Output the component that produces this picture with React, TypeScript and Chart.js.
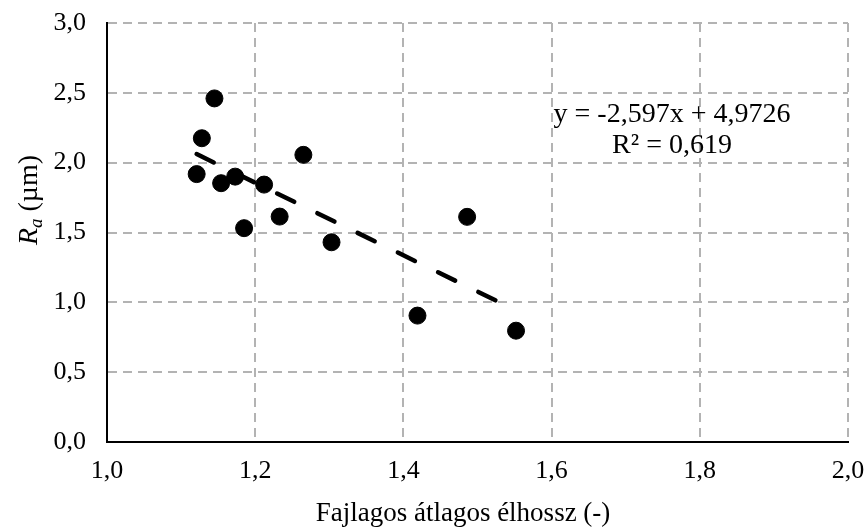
import React, { useEffect, useRef } from "react";
import { Chart, registerables } from "chart.js";

Chart.register(...registerables);

// Measured specimens: specific mean edge length vs. surface roughness Ra
const edgeLength = [1.145, 1.128, 1.121, 1.154, 1.173, 1.212, 1.265, 1.233, 1.185, 1.303, 1.419, 1.486, 1.552];
const roughness = [2.46, 2.175, 1.918, 1.853, 1.9, 1.843, 2.056, 1.614, 1.531, 1.43, 0.905, 1.612, 0.797];

// Linear trendline parameters
const SLOPE = -2.597;
const INTERCEPT = 4.9726;
const R_SQUARED = 0.619;

const xTicks = [1.0, 1.2, 1.4, 1.6, 1.8, 2.0];
const yTicks = [0.0, 0.5, 1.0, 1.5, 2.0, 2.5, 3.0];

const xTitle = "Fajlagos átlagos élhossz (-)";

const SERIF = "'Liberation Serif', 'Times New Roman', serif";
const GRID_COLOR = "#b3b3b3";

const fmt = (v: number, d: number) => v.toFixed(d).replace(".", ",");

const annotations = {
  id: "annotations",
  afterDraw(chart: any) {
    const ctx: CanvasRenderingContext2D = chart.ctx;
    ctx.save();
    ctx.fillStyle = "#000";

    // Trendline equation
    ctx.font = `28px ${SERIF}`;
    ctx.textAlign = "center";
    ctx.textBaseline = "alphabetic";
    const eq = `y = ${fmt(SLOPE, 3)}x + ${fmt(INTERCEPT, 4)}`;
    ctx.fillText(eq, 672, 122);
    ctx.fillText(`R² = ${fmt(R_SQUARED, 3)}`, 672, 153);

    // X axis title
    ctx.font = `27px ${SERIF}`;
    ctx.fillText(xTitle, 463, 521);

    // Y axis title: italic R with italic subscript a, then unit
    ctx.translate(37, 200);
    ctx.rotate(-Math.PI / 2);
    ctx.textAlign = "left";
    const mainFont = `28px ${SERIF}`;
    const italFont = `italic 28px ${SERIF}`;
    const subFont = `italic 19px ${SERIF}`;
    ctx.font = italFont;
    const wR = ctx.measureText("R").width;
    ctx.font = subFont;
    const wA = ctx.measureText("a").width;
    ctx.font = mainFont;
    const unit = " (µm)";
    const wU = ctx.measureText(unit).width;
    let x = -(wR + wA + wU) / 2;
    ctx.font = italFont;
    ctx.fillText("R", x, 0);
    x += wR;
    ctx.font = subFont;
    ctx.fillText("a", x, 5);
    x += wA;
    ctx.font = mainFont;
    ctx.fillText(unit, x, 0);
    ctx.restore();
  },
};

export default function App() {
  const ref = useRef<HTMLCanvasElement | null>(null);

  useEffect(() => {
    if (!ref.current) return;
    const xMin = Math.min(...edgeLength);
    const xMax = Math.max(...edgeLength);
    const points = edgeLength.map((x, i) => ({ x, y: roughness[i] }));
    const trend = [
      { x: xMin, y: SLOPE * xMin + INTERCEPT },
      { x: xMax, y: SLOPE * xMax + INTERCEPT },
    ];

    const chart = new Chart(ref.current, {
      type: "scatter",
      data: {
        datasets: [
          {
            data: points,
            backgroundColor: "#000",
            borderColor: "#000",
            borderWidth: 1,
            pointRadius: 8.5,
            showLine: false,
          },
          {
            data: trend,
            showLine: true,
            borderColor: "#000",
            borderWidth: 4.5,
            borderCapStyle: "round",
            borderDash: [19, 25.8],
            pointRadius: 0,
            fill: false,
          } as any,
        ],
      },
      plugins: [annotations],
      options: {
        responsive: false,
        animation: false,
        devicePixelRatio: 1,
        layout: { padding: { left: 0, right: 19, top: 23, bottom: 0 } },
        plugins: { legend: { display: false }, tooltip: { enabled: false } },
        scales: {
          x: {
            type: "linear",
            min: 1,
            max: 2,
            afterBuildTicks: (scale: any) => {
              scale.ticks = xTicks.map((value) => ({ value }));
            },
            afterFit: (scale: any) => {
              scale.height = 87;
              scale.paddingLeft = 0;
              scale.paddingRight = 0;
            },
            ticks: {
              padding: 14,
              color: "#000",
              font: { family: SERIF, size: 26 },
              callback: (v: any) => fmt(Number(v), 1),
            },
            grid: { color: GRID_COLOR, lineWidth: 2, drawTicks: false },
            border: { display: true, color: "#000", width: 2, dash: [9, 6] },
          },
          y: {
            type: "linear",
            min: 0,
            max: 3,
            afterBuildTicks: (scale: any) => {
              scale.ticks = yTicks.map((value) => ({ value }));
            },
            afterFit: (scale: any) => {
              scale.width = 107;
              scale.paddingTop = 0;
              scale.paddingBottom = 0;
            },
            ticks: {
              padding: 21,
              color: "#000",
              font: { family: SERIF, size: 26 },
              callback: (v: any) => fmt(Number(v), 1),
            },
            grid: { color: GRID_COLOR, lineWidth: 2, drawTicks: false },
            border: { display: true, color: "#000", width: 2, dash: [9, 6] },
          },
        },
      } as any,
    });
    return () => chart.destroy();
  }, []);

  return (
    <div style={{ position: "fixed", left: 0, top: 0, width: 867, height: 529, background: "#fff" }}>
      <canvas ref={ref} width={867} height={529} style={{ display: "block" }} />
    </div>
  );
}
